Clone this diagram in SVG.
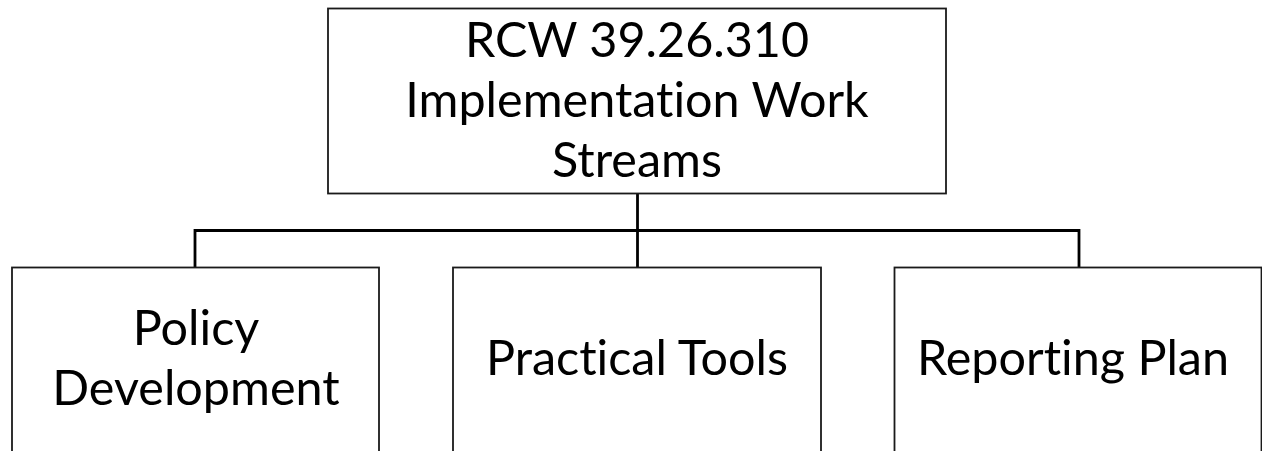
<svg xmlns="http://www.w3.org/2000/svg" width="1262" height="451" viewBox="0 0 1262 451">
<style>
.box{fill:#fff;stroke:#1a1a1a;stroke-width:1.8}
.conn{fill:none;stroke:#000;stroke-width:2.8}
text{font-family:Lato,"Open Sans",sans-serif;font-size:48.5px;fill:#000;text-anchor:middle;font-variant-ligatures:none;font-feature-settings:"liga" 0,"dlig" 0}
</style>
<rect width="1262" height="451" fill="#fff"/>
<g id="connectors">
<path class="conn" d="M637.5 193.5 V267"/>
<path class="conn" d="M195 267 V230.5 H1079 V267"/>
</g>
<g id="top">
<rect class="box" x="328" y="8.5" width="618" height="185"/>
<text x="637" y="57">RCW 39.26.310</text>
<text x="637" y="117">Implementation Work</text>
<text x="637" y="177">Streams</text>
</g>
<g id="policy">
<rect class="box" x="12" y="267.5" width="367" height="200"/>
<text x="196" y="345">Policy</text>
<text x="196" y="405">Development</text>
</g>
<g id="tools">
<rect class="box" x="453" y="267.5" width="368" height="200"/>
<text x="637" y="375">Practical Tools</text>
</g>
<g id="reporting">
<rect class="box" x="894.5" y="267.5" width="367" height="200"/>
<text x="1073" y="375">Reporting Plan</text>
</g>
</svg>
